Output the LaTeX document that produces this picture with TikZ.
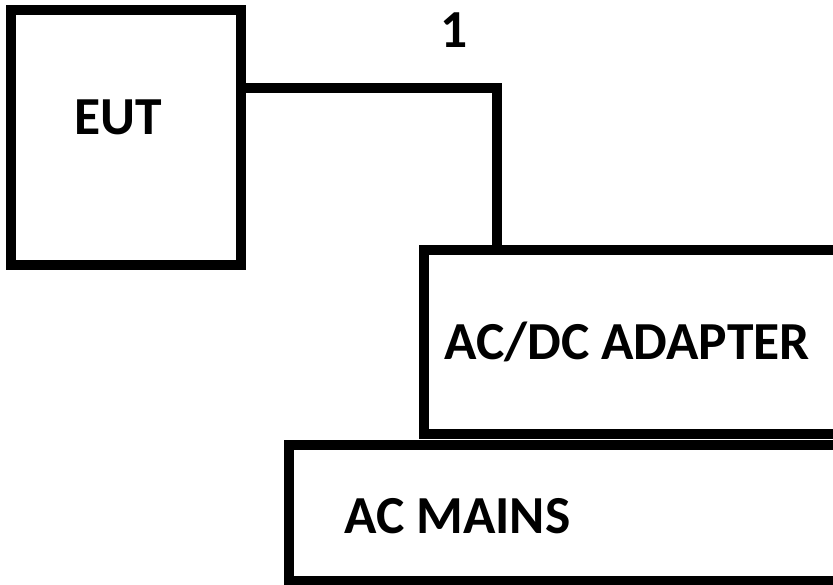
\documentclass[tikz,border=0pt]{standalone}
\usepackage{fontspec}
\setmainfont{Carlito}
\begin{document}
\begin{tikzpicture}[x=1pt,y=-1pt,
  blk/.style={draw,line width=10pt,outer sep=0pt,inner sep=0pt,fill=white},
  wire/.style={line width=10pt,line cap=rect},
  lbl/.style={inner sep=0pt,font=\fontsize{53.5}{60}\selectfont\bfseries}]
\useasboundingbox (0,0) rectangle (833,584);
\clip (0,0) rectangle (833,584);
\node[blk,minimum width=230pt,minimum height=255pt] (eut) at (126,137.5) {};
\node[blk,minimum width=460pt,minimum height=183.5pt] (adapter) at (654,341.75) {};
\node[blk,minimum width=600pt,minimum height=136.5pt] (mains) at (589,512.75) {};
\coordinate (c1) at (497,87.5);
\draw[wire] (eut.east |- c1) -| (adapter.north -| c1);
\node[lbl] (teut) at (118,117) {EUT};
\node[lbl,anchor=west] (tadapter) at (444,342) {AC/DC ADAPTER};
\node[lbl,anchor=west] (tmains) at (344,516) {AC MAINS};
\node[lbl] (tone) at (454,30) {1};
\end{tikzpicture}
\end{document}
